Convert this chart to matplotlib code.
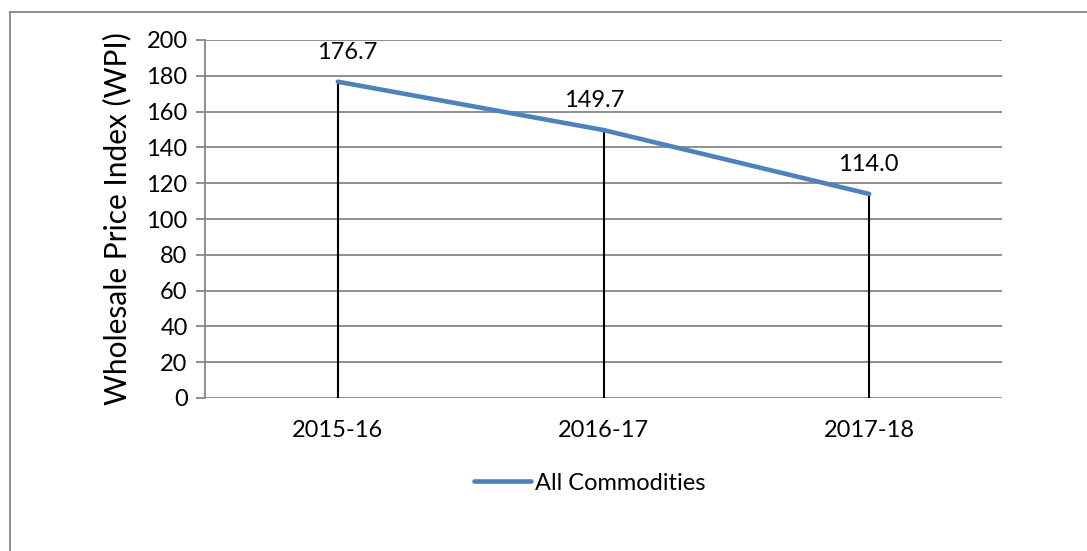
import matplotlib
matplotlib.use("Agg")
import matplotlib.pyplot as plt
from matplotlib.lines import Line2D

plt.rcParams['font.family'] = ['Lato', 'DejaVu Sans']

categories = ["2015-16", "2016-17", "2017-18"]
values = [176.7, 149.7, 114.0]
value_labels = ["176.7", "149.7", "114.0"]
label_dx = [7, -7, -1]  # small horizontal nudges of data labels (points)
series_name = "All Commodities"
yticks = [0, 20, 40, 60, 80, 100, 120, 140, 160, 180, 200]

fig = plt.figure(figsize=(10.87, 5.51), dpi=100)
ax = fig.add_axes([205/1087, 1-398/551, (1002-205)/1087, (398-40)/551])

x = list(range(len(categories)))
ax.set_xlim(-0.5, len(categories) - 0.5)
ax.set_ylim(0, 200)
ax.set_yticks(yticks)
ax.grid(axis='y', color='#868686', linewidth=1.3)
ax.set_axisbelow(True)

ax.vlines(x, 0, values, color='black', linewidth=1.5, zorder=2)
ax.plot(x, values, color='#4F81BD', linewidth=3.3, solid_capstyle='round', zorder=3)

for xi, v, lab, dx in zip(x, values, value_labels, label_dx):
    ax.annotate(lab, (xi, v), xytext=(dx, 21), textcoords='offset points',
                ha='center', va='center', fontsize=17, color='black')

ax.set_xticks(x)
ax.set_xticklabels(categories, fontsize=17)
ax.tick_params(axis='x', length=0, pad=16)
ax.tick_params(axis='y', length=6.5, color='#868686', width=1.3, labelsize=17, pad=6)
for s in ['top', 'right', 'bottom']:
    ax.spines[s].set_visible(False)
ax.spines['left'].set_color('#868686')
ax.spines['left'].set_linewidth(1.3)

ax.set_ylabel("Wholesale Price Index (WPI)", fontsize=21.5, labelpad=11)

handle = Line2D([0], [0], color='#4F81BD', linewidth=3.3, solid_capstyle='round')
fig.legend([handle], [series_name], loc='center', bbox_to_anchor=(590/1087, 1-483/551),
           frameon=False, fontsize=17, handlelength=2.4, handletextpad=0.2)

# outer chart border (top and left visible)
fig.add_artist(Line2D([10/1087, 1], [1-12/551, 1-12/551], color='#868686', linewidth=1.3,
                      transform=fig.transFigure))
fig.add_artist(Line2D([10/1087, 10/1087], [0, 1-12/551], color='#868686', linewidth=1.3,
                      transform=fig.transFigure))

fig.savefig("out.png", dpi=100)
